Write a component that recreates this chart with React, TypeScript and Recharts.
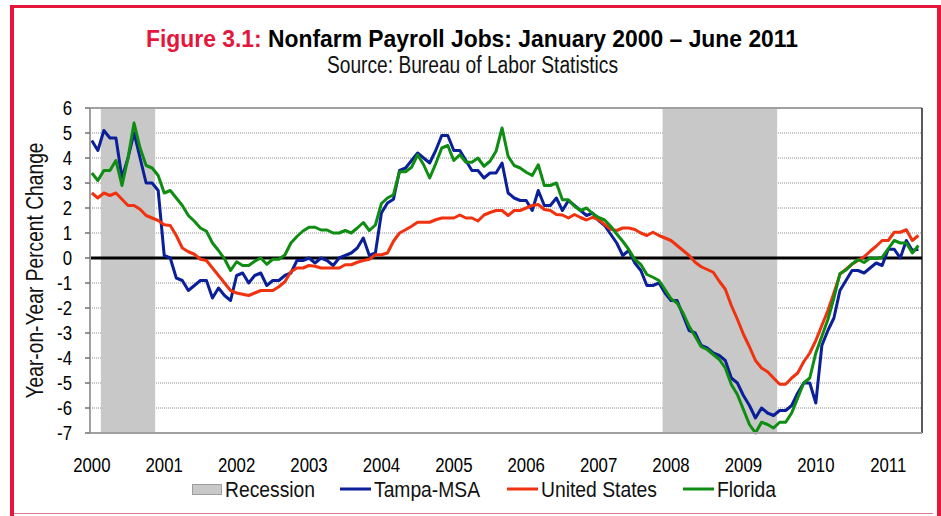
import React from 'react';
import {
  LineChart,
  Line,
  XAxis,
  YAxis,
  CartesianGrid,
  ReferenceArea,
  ReferenceLine,
  Legend,
} from 'recharts';

// Month index 0 = January 2000 ... 137 = June 2011
const tampa = [
  4.7, 4.3, 5.1, 4.8, 4.8, 3.2, 4.0, 5.0, 4.0, 3.0, 3.0, 2.7,
  0.1, 0.0, -0.8, -0.9, -1.3, -1.1, -0.9, -0.9, -1.6, -1.2, -1.5, -1.7,
  -0.7, -0.6, -1.0, -0.7, -0.6, -1.1, -0.9, -0.9, -0.7, -0.6, -0.1, -0.1,
  0.0, -0.2, 0.0, -0.1, -0.3, 0.0, 0.1, 0.2, 0.4, 0.8, 0.1, 0.2,
  1.8, 2.2, 2.35, 3.5, 3.6, 3.9, 4.2, 4.0, 3.8, 4.3, 4.9, 4.9,
  4.3, 4.3, 3.9, 3.5, 3.5, 3.2, 3.4, 3.4, 3.8, 2.6, 2.4, 2.3,
  2.3, 1.9, 2.7, 2.1, 2.1, 2.4, 1.9, 2.3, 2.1, 1.9, 1.7, 1.8,
  1.5, 1.3, 0.95, 0.6, 0.1, 0.3, -0.2, -0.5, -1.1, -1.1, -1.0, -1.4,
  -1.7, -1.7, -2.3, -2.9, -3.0, -3.5, -3.6, -3.8, -3.9, -4.1, -4.8, -5.0,
  -5.5, -5.9, -6.4, -6.0, -6.2, -6.3, -6.1, -6.1, -5.9, -5.4, -5.0, -5.0,
  -5.8, -3.5, -2.9, -2.4, -1.3, -0.9, -0.5, -0.5, -0.6, -0.4, -0.2, -0.3,
  0.35, 0.35, 0.0, 0.7, 0.3, 0.35,
];

const unitedStates = [
  2.6, 2.4, 2.6, 2.5, 2.6, 2.35, 2.1, 2.1, 1.95, 1.7, 1.6, 1.5,
  1.33, 1.3, 0.9, 0.4, 0.25, 0.15, -0.05, -0.1, -0.4, -0.7, -1.0, -1.3,
  -1.4, -1.45, -1.5, -1.4, -1.3, -1.3, -1.3, -1.15, -0.95, -0.55, -0.4, -0.4,
  -0.3, -0.33, -0.4, -0.4, -0.4, -0.4, -0.27, -0.27, -0.17, -0.1, -0.05, 0.13,
  0.13, 0.2, 0.67, 1.0, 1.13, 1.27, 1.43, 1.43, 1.43, 1.53, 1.6, 1.6,
  1.6, 1.72, 1.6, 1.6, 1.48, 1.72, 1.82, 1.9, 1.9, 1.7, 1.9, 1.9,
  2.0, 2.1, 2.14, 1.94, 1.9, 1.74, 1.72, 1.6, 1.74, 1.62, 1.52, 1.63,
  1.53, 1.34, 1.15, 1.1, 1.2, 1.2, 1.14, 1.0, 0.9, 1.03, 0.9, 0.8,
  0.7, 0.5, 0.3, 0.1, -0.17, -0.35, -0.46, -0.57, -0.93, -1.25, -1.9, -2.45,
  -3.05, -3.55, -4.1, -4.4, -4.55, -4.8, -5.05, -5.05, -4.8, -4.6, -4.15, -3.8,
  -3.3, -2.7, -2.1, -1.4, -0.65, -0.45, -0.25, -0.1, 0.05, 0.27, 0.47, 0.7,
  0.7, 1.03, 1.03, 1.13, 0.7, 0.9,
];

const florida = [
  3.4, 3.1, 3.5, 3.5, 3.9, 2.9, 4.0, 5.4, 4.4, 3.7, 3.6, 3.3,
  2.6, 2.7, 2.4, 2.1, 1.7, 1.47, 1.2, 1.07, 0.6, 0.3, -0.04, -0.5,
  -0.15, -0.3, -0.3, -0.13, 0.0, -0.25, -0.05, -0.05, 0.12, 0.6, 0.86, 1.08,
  1.23, 1.23, 1.12, 1.12, 1.0, 1.0, 1.1, 1.0, 1.2, 1.42, 1.1, 1.32,
  2.18, 2.4, 2.53, 3.45, 3.45, 3.63, 4.13, 3.73, 3.2, 3.77, 4.4, 4.5,
  3.9, 4.13, 3.83, 3.83, 4.0, 3.67, 3.87, 4.27, 5.2, 4.07, 3.7, 3.6,
  3.43, 3.3, 3.73, 2.9, 2.9, 3.0, 2.33, 2.33, 2.07, 1.9, 2.0, 1.78,
  1.62, 1.52, 1.27, 0.96, 0.67, 0.34, -0.06, -0.26, -0.66, -0.77, -0.9, -1.26,
  -1.63, -1.8, -2.2, -2.73, -3.13, -3.55, -3.66, -3.86, -4.06, -4.4, -5.06, -5.46,
  -6.06, -6.66, -7.0, -6.57, -6.66, -6.8, -6.57, -6.57, -6.2, -5.6, -5.0, -4.8,
  -3.8, -3.13, -2.46, -1.6, -0.62, -0.48, -0.24, -0.06, -0.18, 0.0, -0.02, 0.03,
  0.37, 0.7, 0.6, 0.6, 0.2, 0.5,
];

const years = [2000, 2001, 2002, 2003, 2004, 2005, 2006, 2007, 2008, 2009, 2010, 2011];
const yTicks = [-7, -6, -5, -4, -3, -2, -1, 0, 1, 2, 3, 4, 5, 6];
// recession shading, in month-index units (as drawn in the source figure)
const recessionStart = [1.5, 94.6];
const recessionEnd = [10.5, 113.6];

const seriesNames = ['Tampa-MSA', 'United States', 'Florida'];
const seriesKeys = ['tampa', 'us', 'florida'];

const COLORS: Record<string, string> = {
  tampa: '#0b1f98',
  us: '#f0320f',
  florida: '#0f8c12',
};
const RED = '#e4163c';
const FONT = '"Liberation Sans", Arial, sans-serif';
const SQUEEZE = 0.8;

const data = tampa.map((v, i) => ({
  m: i,
  tampa: v,
  us: unitedStates[i],
  florida: florida[i],
}));

const XTick = (props: any) => {
  const { x, y, payload } = props;
  return (
    <text
      transform={`translate(${x},${y}) scale(${SQUEEZE},1)`}
      textAnchor="middle"
      dy="0.71em"
      fontFamily={FONT}
      fontSize={21}
      fill="#000"
    >
      {String(2000 + Math.round(payload.value / 12))}
    </text>
  );
};

const YTick = (props: any) => {
  const { x, y, payload } = props;
  return (
    <text
      transform={`translate(${x},${y}) scale(${SQUEEZE},1)`}
      textAnchor="end"
      dy="0.355em"
      fontFamily={FONT}
      fontSize={21}
      fill="#000"
    >
      {String(payload.value)}
    </text>
  );
};

const YLabel = (props: any) => {
  const vb = props.viewBox || { x: 0, y: 108, width: 90, height: 325 };
  const cx = vb.x + 35;
  const cy = vb.y + vb.height / 2;
  return (
    <text
      transform={`translate(${cx},${cy}) rotate(-90)`}
      textAnchor="middle"
      dy="0.355em"
      fontFamily={FONT}
      fontSize={23.5}
      fill="#111"
      textLength={256}
      lengthAdjust="spacingAndGlyphs"
    >
      Year-on-Year Percent Change
    </text>
  );
};

const LegendContent = () => {
  const xs = [192, 340, 507, 683];
  const textLens = [90, 106, 116, 59];
  const items = [
    { name: 'Recession', key: 'recession' },
    ...seriesNames.map((n, i) => ({ name: n, key: seriesKeys[i] })),
  ];
  return (
    <svg width={922} height={24} style={{ display: 'block' }}>
      {items.map((it, i) => (
        <g key={it.key} transform={`translate(${xs[i]},0)`}>
          {it.key === 'recession' ? (
            <rect x={0.5} y={7.5} width={29} height={10} fill="#c8c8c8" stroke="#555" strokeDasharray="1 1" strokeWidth={1} />
          ) : (
            <line x1={0} x2={31} y1={12} y2={12} stroke={COLORS[it.key]} strokeWidth={3} />
          )}
          <text
            x={it.key === 'recession' ? 33 : 34}
            y={12}
            dy="0.355em"
            fontFamily={FONT}
            fontSize={22}
            fill="#111"
            textLength={textLens[i]}
            lengthAdjust="spacingAndGlyphs"
          >
            {it.name}
          </text>
        </g>
      ))}
    </svg>
  );
};

export default function App() {
  return (
    <div style={{ position: 'absolute', left: 0, top: 0, width: 941, height: 516, background: '#fff', overflow: 'hidden' }}>
      <div
        style={{
          position: 'absolute',
          left: 10,
          top: 5,
          width: 923,
          height: 520,
          borderLeft: `4px solid ${RED}`,
          borderRight: `4px solid ${RED}`,
          borderTop: `3px solid ${RED}`,
          boxSizing: 'content-box',
        }}
      />
      <div style={{ position: 'absolute', left: 14, right: 8, top: 513, height: 1, background: '#e07b8c' }} />
      <svg style={{ position: 'absolute', left: 0, top: 0 }} width={941} height={90}>
        <text
          x={472}
          y={47}
          textAnchor="middle"
          fontFamily={FONT}
          fontWeight="bold"
          fontSize={24}
          textLength={652}
          lengthAdjust="spacingAndGlyphs"
        >
          <tspan fill={RED}>Figure 3.1:</tspan>
          <tspan fill="#000"> Nonfarm Payroll Jobs: January 2000 – June 2011</tspan>
        </text>
        <text
          x={472.5}
          y={73}
          textAnchor="middle"
          fontFamily={FONT}
          fontSize={23}
          fill="#111"
          textLength={291}
          lengthAdjust="spacingAndGlyphs"
        >
          Source: Bureau of Labor Statistics
        </text>
      </svg>
      <div style={{ position: 'absolute', left: 0, top: 0 }}>
        <LineChart width={941} height={516} data={data} margin={{ top: 108, right: 19, left: 0, bottom: 15 }}>
          <CartesianGrid vertical={false} stroke="#8c8c8c" strokeDasharray="1 1" />
          {recessionStart.map((s, i) => (
            <ReferenceArea
              key={i}
              x1={s}
              x2={recessionEnd[i]}
              y1={-7}
              y2={6}
              fill="#c8c8c8"
              fillOpacity={1}
              stroke="none"
              ifOverflow="hidden"
            />
          ))}
          <XAxis
            dataKey="m"
            type="number"
            domain={[-0.3, 137.6]}
            allowDataOverflow
            ticks={years.map((y) => (y - 2000) * 12)}
            interval={0}
            height={44}
            tickSize={0}
            tickMargin={24}
            axisLine={{ stroke: '#a0a0a0', strokeWidth: 2 }}
            tickLine={false}
            tick={<XTick />}
          />
          <YAxis
            type="number"
            domain={[-7, 6]}
            ticks={yTicks}
            interval={0}
            width={90}
            tickSize={5}
            tickMargin={13}
            axisLine={{ stroke: '#a0a0a0', strokeWidth: 2 }}
            tickLine={{ stroke: '#707070', strokeWidth: 1.5 }}
            tick={<YTick />}
            label={<YLabel />}
          />
          <ReferenceLine y={6} stroke="#a0a0a0" strokeWidth={2} />
          <ReferenceLine x={137.6} stroke="#222" strokeWidth={1.5} />
          <ReferenceLine y={0} stroke="#000" strokeWidth={3} />
          {seriesKeys.map((k, i) => (
            <Line
              key={k}
              type="linear"
              dataKey={k}
              name={seriesNames[i]}
              stroke={COLORS[k]}
              strokeWidth={3}
              dot={false}
              activeDot={false}
              isAnimationActive={false}
              strokeLinejoin="round"
            />
          ))}
          <Legend verticalAlign="bottom" height={24} content={<LegendContent />} />
        </LineChart>
      </div>
    </div>
  );
}
